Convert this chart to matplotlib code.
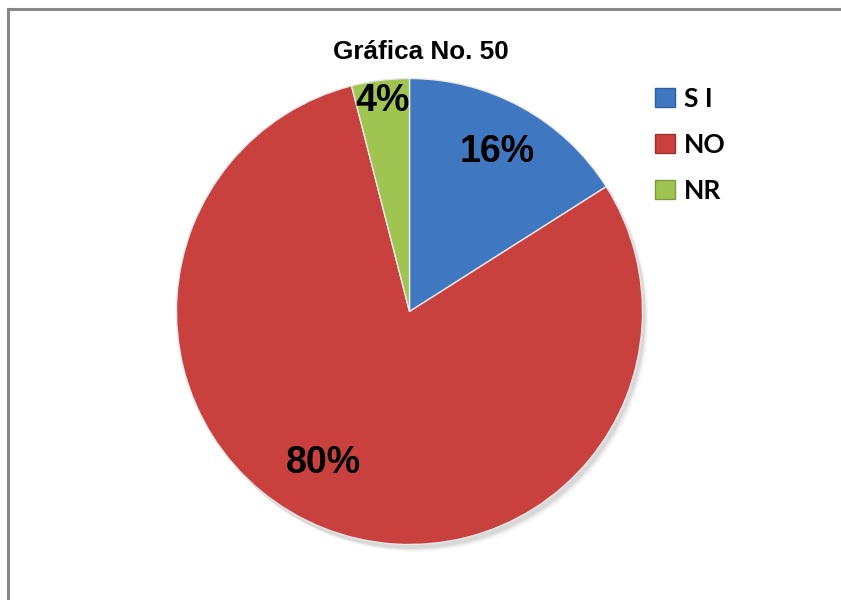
import matplotlib
matplotlib.use("Agg")
import matplotlib.pyplot as plt
import matplotlib.patches as mpatches
import numpy as np

categories = ["S I", "NO", "NR"]
values = [16, 80, 4]
pct_labels = ["16%", "80%", "4%"]
colors = ["#3F77C0", "#C9413F", "#A0C452"]
edge_colors = ["#2F5E9E", "#9C2F2D", "#7A9A3A"]
label_dist = [0.78, 0.75, 0.91]
label_ang_off = [0, -8, 0]

W, H = 841, 600
fig = plt.figure(figsize=(W / 100, H / 100), dpi=100)
fig.patch.set_facecolor("white")

# frame lines (top and left)
fig.add_artist(plt.Line2D([8 / W, 1], [1 - 9 / H, 1 - 9 / H], color="#878787", lw=2.2))
fig.add_artist(plt.Line2D([8 / W, 8 / W], [0, 1 - 9 / H], color="#878787", lw=2.2))

cx, cy, r = 409.5, 311.5, 233
ax = fig.add_axes([(cx - r) / W, (H - cy - r) / H, 2 * r / W, 2 * r / H])
ax.axis("off")

# soft shadow
for k, a in enumerate(np.linspace(0.05, 0.01, 5)):
    ax.add_patch(mpatches.Circle((0.012 + 0.004 * k, -0.018 - 0.004 * k), 1.0, color="black",
                                 alpha=a, lw=0, zorder=0, clip_on=False))

wedges, _ = ax.pie(values, colors=colors, startangle=90, counterclock=False, radius=1.0,
                   wedgeprops=dict(linewidth=1.0, edgecolor="#E8E8E8"))
for w in wedges:
    w.set_zorder(2)
ax.set_xlim(-1, 1)
ax.set_ylim(-1, 1)

total = sum(values)
start = 90.0
for v, lab, d, off in zip(values, pct_labels, label_dist, label_ang_off):
    mid = start - v / total * 360 / 2 + off
    start -= v / total * 360
    x, y = d * np.cos(np.radians(mid)), d * np.sin(np.radians(mid))
    ax.text(x, y, lab, ha="center", va="center", fontsize=27, fontweight="bold",
            family="Liberation Sans", color="black", zorder=5)

fig.text(420.5 / W, 1 - 52 / H, "Gráfica No. 50", ha="center", va="center", fontsize=18.8,
         fontweight="bold", family="Liberation Sans")

handles = [mpatches.Patch(facecolor=c, edgecolor=e, lw=1.0) for c, e in zip(colors, edge_colors)]
leg = fig.legend(handles, categories, loc="upper left", bbox_to_anchor=(631 / W, 1 - 63 / H),
                 frameon=False, prop=dict(family="Lato", weight="bold", size=19),
                 handlelength=0.75, handleheight=0.75, handletextpad=0.35, labelspacing=0.83)

fig.savefig("out.png", dpi=100, facecolor="white")
